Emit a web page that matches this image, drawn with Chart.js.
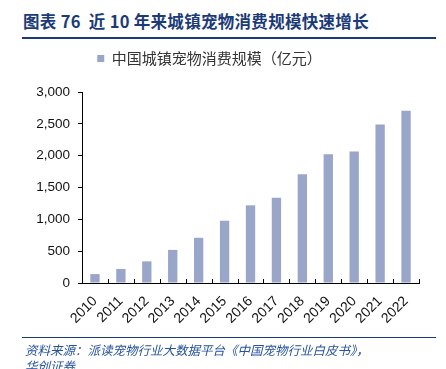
<!DOCTYPE html>
<html>
<head>
<meta charset="utf-8">
<script src="https://cdn.jsdelivr.net/npm/chart.js@4"></script>
<style>
  body { margin: 0; background: #fff; }
  #wrap { position: relative; width: 446px; height: 369px; overflow: hidden; }
  #title { position: absolute; left: 23px; top: 9px; font: bold 16.5px "Noto Sans CJK SC", sans-serif; color: #1b3a78; letter-spacing: 0.3px; white-space: nowrap; }
  #topline { position: absolute; left: 22px; top: 37px; width: 414px; height: 2px; background: #1b3a78; }
  #botline { position: absolute; left: 22px; top: 337px; width: 414px; height: 1px; background: #1b3a78; }
  #note { position: absolute; left: 25px; top: 342px; font: italic 12.5px "Noto Sans CJK SC", sans-serif; color: #2451a0; line-height: 16px; white-space: nowrap; }
  canvas { position: absolute; left: 0; top: 0; }
</style>
</head>
<body>
<div id="wrap">
  <div id="title">图表 76&nbsp; 近 10 年来城镇宠物消费规模快速增长</div>
  <div id="topline"></div>
  <canvas id="myChart" width="446" height="369"></canvas>
  <div id="botline"></div>
  <div id="note">资料来源：派读宠物行业大数据平台《中国宠物行业白皮书》，<br>华创证券</div>
</div>
<script>
const years = ['2010','2011','2012','2013','2014','2015','2016','2017','2018','2019','2020','2021','2022'];
const scaleValues = [140, 220, 340, 520, 710, 978, 1220, 1340, 1708, 2024, 2065, 2490, 2706];
const seriesName = '中国城镇宠物消费规模（亿元）';
const yTicks = [0, 500, 1000, 1500, 2000, 2500, 3000];

// small upward ticks between the categories on the x axis
const xTickMarks = {
  id: 'xTickMarks',
  afterDraw(chart) {
    const x = chart.scales.x;
    const ctx = chart.ctx;
    const y0 = chart.chartArea.bottom;
    ctx.save();
    ctx.strokeStyle = '#000';
    ctx.lineWidth = 1;
    ctx.beginPath();
    for (let i = 0; i <= years.length; i++) {
      const px = Math.round(x.getPixelForValue(i - 0.5)) + 0.5;
      ctx.moveTo(px, y0);
      ctx.lineTo(px, y0 - 4);
    }
    ctx.stroke();
    ctx.restore();
  }
};

// extra room under the legend
const legendGap = {
  id: 'legendGap',
  beforeInit(chart) {
    const fit = chart.legend.fit;
    chart.legend.fit = function () {
      fit.bind(chart.legend)();
      this.height += 16;
    };
  }
};

const ctx = document.getElementById('myChart').getContext('2d');
const myChart = new Chart(ctx, {
  type: 'bar',
  data: {
    labels: years,
    datasets: [{
      label: seriesName,
      data: scaleValues,
      backgroundColor: '#99a6ca',
      borderWidth: 0,
      barPercentage: 0.36,
      categoryPercentage: 1
    }]
  },
  options: {
    responsive: false,
    animation: false,
    layout: { padding: { top: 45, right: 27, left: 0, bottom: 0 } },
    plugins: {
      legend: {
        position: 'top',
        labels: {
          boxWidth: 7, boxHeight: 7, color: '#333',
          font: { family: '"Noto Sans CJK SC"', size: 15 },
          padding: 6
        }
      },
      tooltip: { enabled: false }
    },
    scales: {
      x: {
        offset: true,
        grid: { display: false },
        border: { color: '#000', width: 1 },
        ticks: {
          color: '#111', minRotation: 45, maxRotation: 45, padding: 2, autoSkip: false,
          font: { family: '"Liberation Sans", Arial', size: 14 }
        },
        afterFit(s) { s.height = 86; }
      },
      y: {
        min: 0, max: 3000,
        afterBuildTicks(s) { s.ticks = yTicks.map(v => ({ value: v })); },
        grid: { drawOnChartArea: false, tickLength: 4, color: '#000' },
        border: { color: '#000', width: 1 },
        ticks: {
          color: '#111', padding: 8,
          font: { family: '"Liberation Sans", Arial', size: 13.5 },
          callback: v => v.toLocaleString('en-US')
        },
        afterFit(s) { s.width = 82; }
      }
    }
  },
  plugins: [xTickMarks, legendGap]
});
</script>
</body>
</html>
